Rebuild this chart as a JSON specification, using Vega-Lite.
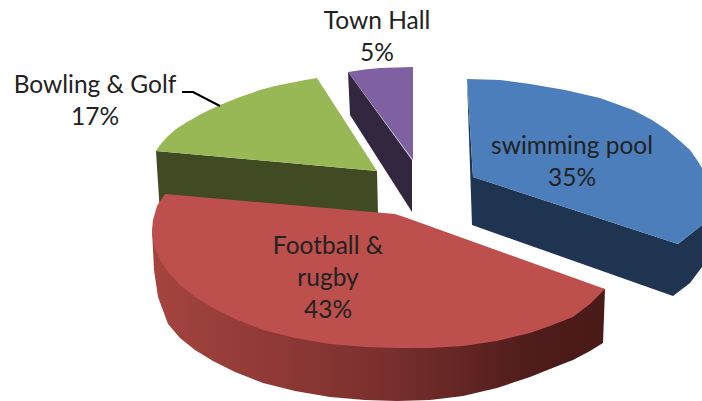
{
  "$schema": "https://vega.github.io/schema/vega-lite/v6.json",
  "description": "Exploded 3-D pie of facility spending: each slice is a set of filled faces traced on a flat plane.",
  "width": 702,
  "height": 401,
  "padding": 0,
  "autosize": {"type": "none"},
  "background": "white",
  "view": {"stroke": null},
  "datasets": {
    "backFaces": [
      {"face": "green side", "seq": 1, "x": 156, "y": 151},
      {"face": "green side", "seq": 2, "x": 377, "y": 171},
      {"face": "green side", "seq": 3, "x": 378, "y": 214},
      {"face": "green side", "seq": 4, "x": 160, "y": 214},
      {"face": "green top", "seq": 1, "x": 317, "y": 78},
      {"face": "green top", "seq": 2, "x": 377, "y": 171},
      {"face": "green top", "seq": 3, "x": 156, "y": 151},
      {"face": "green top", "seq": 4, "x": 160, "y": 145},
      {"face": "green top", "seq": 5, "x": 167, "y": 137},
      {"face": "green top", "seq": 6, "x": 176, "y": 129},
      {"face": "green top", "seq": 7, "x": 187, "y": 122},
      {"face": "green top", "seq": 8, "x": 203, "y": 113},
      {"face": "green top", "seq": 9, "x": 220, "y": 105},
      {"face": "green top", "seq": 10, "x": 240, "y": 97},
      {"face": "green top", "seq": 11, "x": 260, "y": 90},
      {"face": "green top", "seq": 12, "x": 275, "y": 86},
      {"face": "green top", "seq": 13, "x": 290, "y": 83},
      {"face": "green top", "seq": 14, "x": 305, "y": 80},
      {"face": "purple side", "seq": 1, "x": 348, "y": 72},
      {"face": "purple side", "seq": 2, "x": 412, "y": 160},
      {"face": "purple side", "seq": 3, "x": 412, "y": 212},
      {"face": "purple side", "seq": 4, "x": 350, "y": 115},
      {"face": "purple top", "seq": 1, "x": 348, "y": 72},
      {"face": "purple top", "seq": 2, "x": 365, "y": 69.5},
      {"face": "purple top", "seq": 3, "x": 380, "y": 68},
      {"face": "purple top", "seq": 4, "x": 413, "y": 67},
      {"face": "purple top", "seq": 5, "x": 413, "y": 160},
      {"face": "blue side", "seq": 1, "x": 467, "y": 79},
      {"face": "blue side", "seq": 2, "x": 473, "y": 177},
      {"face": "blue side", "seq": 3, "x": 678, "y": 244},
      {"face": "blue side", "seq": 4, "x": 702, "y": 225},
      {"face": "blue side", "seq": 5, "x": 702, "y": 267},
      {"face": "blue side", "seq": 6, "x": 690, "y": 283},
      {"face": "blue side", "seq": 7, "x": 673, "y": 296},
      {"face": "blue side", "seq": 8, "x": 472, "y": 225},
      {"face": "blue top", "seq": 1, "x": 467, "y": 79},
      {"face": "blue top", "seq": 2, "x": 500, "y": 80},
      {"face": "blue top", "seq": 3, "x": 530, "y": 84},
      {"face": "blue top", "seq": 4, "x": 565, "y": 90},
      {"face": "blue top", "seq": 5, "x": 600, "y": 98},
      {"face": "blue top", "seq": 6, "x": 633, "y": 110},
      {"face": "blue top", "seq": 7, "x": 652, "y": 120},
      {"face": "blue top", "seq": 8, "x": 667, "y": 130},
      {"face": "blue top", "seq": 9, "x": 680, "y": 141},
      {"face": "blue top", "seq": 10, "x": 690, "y": 150},
      {"face": "blue top", "seq": 11, "x": 697, "y": 160},
      {"face": "blue top", "seq": 12, "x": 702, "y": 168},
      {"face": "blue top", "seq": 13, "x": 702, "y": 225},
      {"face": "blue top", "seq": 14, "x": 678, "y": 244},
      {"face": "blue top", "seq": 15, "x": 473, "y": 177}
    ],
    "redSide": [
      {"seq": 1, "x": 152, "y": 230},
      {"seq": 2, "x": 154, "y": 270},
      {"seq": 3, "x": 158, "y": 297},
      {"seq": 4, "x": 168, "y": 324},
      {"seq": 5, "x": 180, "y": 338},
      {"seq": 6, "x": 195, "y": 350},
      {"seq": 7, "x": 213, "y": 361},
      {"seq": 8, "x": 235, "y": 372},
      {"seq": 9, "x": 263, "y": 383},
      {"seq": 10, "x": 295, "y": 391},
      {"seq": 11, "x": 330, "y": 397},
      {"seq": 12, "x": 365, "y": 400},
      {"seq": 13, "x": 397, "y": 401},
      {"seq": 14, "x": 430, "y": 400},
      {"seq": 15, "x": 463, "y": 396},
      {"seq": 16, "x": 497, "y": 388},
      {"seq": 17, "x": 530, "y": 377},
      {"seq": 18, "x": 550, "y": 369},
      {"seq": 19, "x": 573, "y": 360},
      {"seq": 20, "x": 590, "y": 351},
      {"seq": 21, "x": 603, "y": 343},
      {"seq": 22, "x": 605, "y": 289}
    ],
    "redTop": [
      {"seq": 1, "x": 165, "y": 194},
      {"seq": 2, "x": 395, "y": 214},
      {"seq": 3, "x": 407, "y": 218},
      {"seq": 4, "x": 605, "y": 289},
      {"seq": 5, "x": 590, "y": 304},
      {"seq": 6, "x": 573, "y": 317},
      {"seq": 7, "x": 550, "y": 326},
      {"seq": 8, "x": 530, "y": 333},
      {"seq": 9, "x": 497, "y": 341},
      {"seq": 10, "x": 463, "y": 346},
      {"seq": 11, "x": 430, "y": 348},
      {"seq": 12, "x": 397, "y": 348},
      {"seq": 13, "x": 365, "y": 347},
      {"seq": 14, "x": 330, "y": 344},
      {"seq": 15, "x": 295, "y": 338},
      {"seq": 16, "x": 263, "y": 330},
      {"seq": 17, "x": 235, "y": 319},
      {"seq": 18, "x": 213, "y": 308},
      {"seq": 19, "x": 195, "y": 297},
      {"seq": 20, "x": 180, "y": 285},
      {"seq": 21, "x": 168, "y": 272},
      {"seq": 22, "x": 160, "y": 260},
      {"seq": 23, "x": 155, "y": 248},
      {"seq": 24, "x": 153, "y": 240},
      {"seq": 25, "x": 152, "y": 230},
      {"seq": 26, "x": 153, "y": 220},
      {"seq": 27, "x": 157, "y": 206}
    ],
    "leader": [
      {"seq": 1, "x": 182, "y": 92},
      {"seq": 2, "x": 193, "y": 92},
      {"seq": 3, "x": 220, "y": 106}
    ],
    "labels": [
      {"label": "Town Hall\n5%", "x": 377, "y": 22},
      {"label": "Bowling & Golf\n17%", "x": 95, "y": 86},
      {"label": "swimming pool\n35%", "x": 572, "y": 147},
      {"label": "Football &\nrugby\n43%", "x": 328, "y": 247}
    ]
  },
  "encoding": {
    "x": {"field": "x", "type": "quantitative", "scale": {"domain": [0, 702], "nice": false, "zero": false}, "axis": null},
    "y": {"field": "y", "type": "quantitative", "scale": {"domain": [401, 0], "nice": false, "zero": false}, "axis": null},
    "order": {"field": "seq", "type": "quantitative"}
  },
  "layer": [
    {
      "data": {"name": "backFaces"},
      "mark": {"type": "line", "filled": true, "strokeWidth": 0.7, "clip": true},
      "encoding": {
        "color": {
          "field": "face",
          "type": "nominal",
          "legend": null,
          "sort": null,
          "scale": {
            "domain": ["green side", "green top", "purple side", "purple top", "blue side", "blue top"],
            "range": ["#414B23", "#98B855", "#33263F", "#7F60A0", "#1F3450", "#4B7EBB"]
          }
        }
      }
    },
    {
      "data": {"name": "redSide"},
      "mark": {
        "type": "line",
        "clip": true,
        "strokeWidth": 0,
        "fill": {
          "gradient": "linear",
          "x1": 0, "y1": 0, "x2": 1, "y2": 0,
          "stops": [
            {"offset": 0, "color": "#A5443F"},
            {"offset": 0.5, "color": "#7B302E"},
            {"offset": 0.85, "color": "#4D1C1A"},
            {"offset": 1, "color": "#4A1A18"}
          ]
        }
      }
    },
    {
      "data": {"name": "redTop"},
      "mark": {"type": "line", "filled": true, "color": "#BD4F4C", "strokeWidth": 0.7, "clip": true}
    },
    {
      "data": {"name": "leader"},
      "mark": {"type": "line", "color": "#000000", "strokeWidth": 2}
    },
    {
      "data": {"name": "labels"},
      "mark": {"type": "text", "font": "Lato", "fontSize": 24.5, "color": "#222222", "align": "center", "baseline": "middle", "lineBreak": "\n", "lineHeight": 32},
      "encoding": {
        "text": {"field": "label", "type": "nominal"},
        "order": {"value": null}
      }
    }
  ]
}
